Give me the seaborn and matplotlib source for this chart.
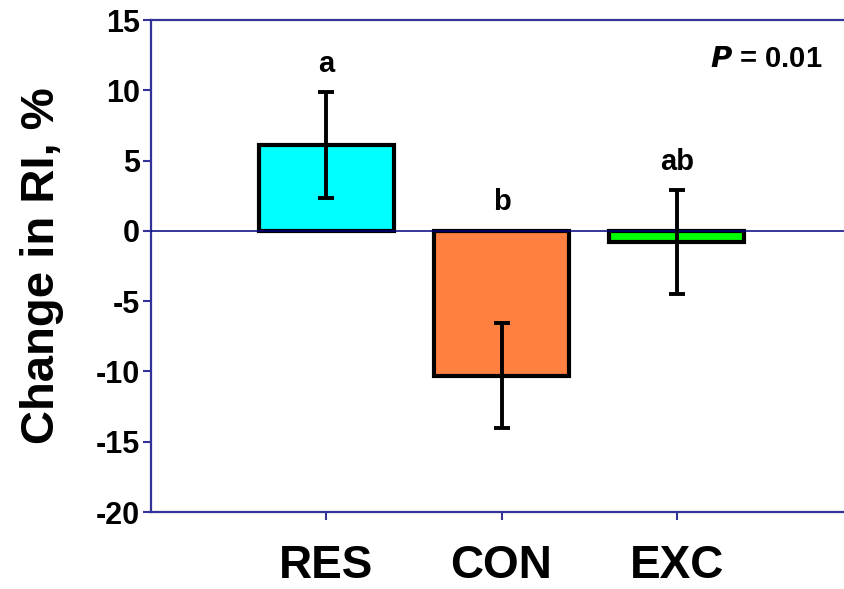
import matplotlib
matplotlib.use("Agg")
import matplotlib.pyplot as plt
import seaborn as sns
import pandas as pd
import numpy as np

groups = ["RES", "CON", "EXC"]
means = [6.1, -10.3, -0.8]
sems = [3.75, 3.75, 3.7]
letters = ["a", "b", "ab"]
colors = ["#00FFFF", "#FF8040", "#00FF00"]
yticks = [15, 10, 5, 0, -5, -10, -15, -20]
p_text = "$\\boldsymbol{P}$ = 0.01"

sns.set_style("white")
plt.rcParams['font.family'] = ['Liberation Sans', 'DejaVu Sans']
plt.rcParams['font.weight'] = 'bold'
plt.rcParams['text.color'] = 'black'
plt.rcParams['axes.labelcolor'] = 'black'
plt.rcParams['xtick.color'] = 'black'
plt.rcParams['ytick.color'] = 'black'
plt.rcParams['mathtext.fontset'] = 'custom'
plt.rcParams['mathtext.bf'] = 'Liberation Sans:bold:italic'
plt.rcParams['mathtext.it'] = 'Liberation Sans:bold:italic'

df = pd.DataFrame({"group": groups, "mean": means, "sem": sems})

fig = plt.figure(figsize=(8.45, 5.89), dpi=100)
ax = fig.add_axes([151/845, 1 - 512/589, 1 - 151/845, (512 - 20)/589])

sns.barplot(data=df, x="group", y="mean", hue="group", palette=colors,
            saturation=1, width=0.77, edgecolor="black", linewidth=3,
            legend=False, errorbar=None, ax=ax, zorder=2)

xs = np.arange(len(groups))
ax.errorbar(xs, df["mean"], yerr=df["sem"], fmt="none", ecolor="black",
            elinewidth=2.8, capsize=6, capthick=2.8, zorder=4)

ax.axhline(0, color="#000080", lw=1.1, zorder=3)

for x, m, s, lab in zip(xs, means, sems, letters):
    top = max(m + s, 0)
    ax.text(x, top + 1.45, lab, ha="center", va="baseline",
            fontsize=21, fontweight="bold", color="black")

ax.text(0.968, 0.904, p_text, transform=ax.transAxes, ha="right",
        va="baseline", fontsize=21, fontweight="bold", color="black")

ax.set_xlim(-1.0, 2.96)
ax.set_ylim(-20, 15)
ax.set_yticks(yticks)
ax.set_yticklabels([str(t) for t in yticks], fontsize=22, fontweight="bold",
                   color="black")
ax.set_xticks(xs)
ax.set_xticklabels(groups, fontsize=33, fontweight="bold", color="black")
ax.tick_params(axis="y", direction="out", length=6, width=1.5,
               color="#333399", pad=2, left=True, labelcolor="black")
ax.tick_params(axis="x", direction="out", length=6, width=1.5,
               color="#333399", pad=17, bottom=True, labelcolor="black")

ax.set_xlabel("")
ax.set_ylabel("Change in RI, %", fontsize=34, fontweight="bold", color="black")
ax.yaxis.set_label_coords(-(151 - 64) / 694, 0.5)

for side in ["left", "bottom", "top"]:
    ax.spines[side].set_visible(True)
    ax.spines[side].set_color("#333399")
    ax.spines[side].set_linewidth(1.6)
ax.spines["right"].set_visible(False)

fig.savefig("out.png", dpi=100)
